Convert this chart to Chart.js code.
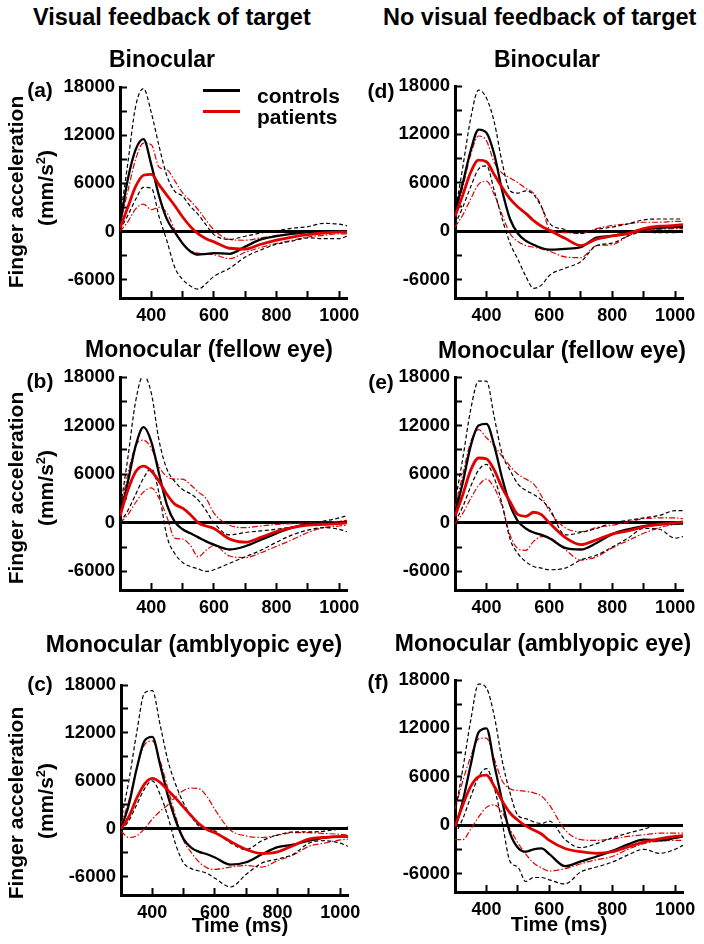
<!DOCTYPE html>
<html>
<head>
<meta charset="utf-8">
<script src="https://cdn.jsdelivr.net/npm/chart.js@4.4.0/dist/chart.umd.min.js"></script>
<style>
  body { margin: 0; background: #fff; }
  #fig { position: relative; width: 704px; height: 944px; overflow: hidden;
         font-family: 'Liberation Sans', Arial, sans-serif; font-weight: bold; color: #000; }
  canvas { position: absolute; }
  .t { position: absolute; white-space: nowrap; line-height: 1; transform: translate(-50%, -50%); }
  .h { position: absolute; white-space: nowrap; line-height: 1; font-size: 23.5px; transform: translate(0, -50%); }
  .yl { position: absolute; white-space: nowrap; line-height: 1; font-size: 21px;
        transform: translate(-50%, -50%) rotate(-90deg); }
  .yl sup { font-size: 13px; }
  .leg { position: absolute; height: 3px; width: 37px; }
  .legt { position: absolute; white-space: nowrap; line-height: 1; font-size: 21px; transform: translate(0, -50%); }
</style>
</head>
<body>
<div id="fig">
  <canvas id="pa"></canvas><canvas id="pb"></canvas><canvas id="pc"></canvas>
  <canvas id="pd"></canvas><canvas id="pe"></canvas><canvas id="pf"></canvas>

  <div class="h" style="left:33px;top:18px">Visual feedback of target</div>
  <div class="h" style="left:383px;top:18px">No visual feedback of target</div>

  <div class="t" style="left:162px;top:59px;font-size:23px">Binocular</div>
  <div class="t" style="left:547px;top:59px;font-size:23px">Binocular</div>
  <div class="t" style="left:209px;top:349px;font-size:23px">Monocular (fellow eye)</div>
  <div class="t" style="left:562px;top:350px;font-size:23px">Monocular (fellow eye)</div>
  <div class="t" style="left:194px;top:644px;font-size:23px">Monocular (amblyopic eye)</div>
  <div class="t" style="left:543px;top:643px;font-size:23px">Monocular (amblyopic eye)</div>

  <div class="t" style="left:40px;top:89px;font-size:21px">(a)</div>
  <div class="t" style="left:40px;top:380px;font-size:21px">(b)</div>
  <div class="t" style="left:40px;top:683px;font-size:21px">(c)</div>
  <div class="t" style="left:381px;top:90px;font-size:21px">(d)</div>
  <div class="t" style="left:381px;top:381px;font-size:21px">(e)</div>
  <div class="t" style="left:378px;top:681px;font-size:21px">(f)</div>

  <div class="yl" style="left:15px;top:192px">Finger acceleration</div>
  <div class="yl" style="left:45px;top:188px">(mm/s<sup>2</sup>)</div>
  <div class="yl" style="left:15px;top:488px">Finger acceleration</div>
  <div class="yl" style="left:45px;top:488px">(mm/s<sup>2</sup>)</div>
  <div class="yl" style="left:15px;top:803px">Finger acceleration</div>
  <div class="yl" style="left:45px;top:801px">(mm/s<sup>2</sup>)</div>

  <div class="t" style="left:240px;top:925px;font-size:20.5px">Time (ms)</div>
  <div class="t" style="left:559px;top:924px;font-size:20.5px">Time (ms)</div>

  <div class="leg" style="left:203px;top:89px;background:#000"></div>
  <div class="leg" style="left:203px;top:110px;background:#e00000"></div>
  <div class="legt" style="left:257px;top:95px">controls</div>
  <div class="legt" style="left:257px;top:116px">patients</div>
</div>

<script>
// sample times (ms)
const timeMs = [300, 325, 350, 375, 400, 425, 450, 475, 500, 525, 550, 575, 600, 650, 700, 750, 800, 850, 900, 950, 1000, 1025];
const xTicks = [400, 500, 600, 700, 800, 900, 1000];
const yTicks = [-6000, -3000, 0, 3000, 6000, 9000, 12000, 15000, 18000];

// (a) binocular, visual feedback
const aCtrlMean = [800, 6500, 10200, 11500, 8300, 4400, 1500, -100, -1500, -2500, -2900, -2800, -2700, -2800, -1900, -1000, -600, -300, -100, 0, 0, 0];
const aCtrlHi = [1500, 8500, 15600, 17800, 14800, 10600, 6900, 5000, 4400, 3100, 2100, 800, -400, -1000, -600, -200, 100, 400, 600, 1000, 900, 700];
const aCtrlLo = [200, 2000, 4000, 5500, 5400, 1800, -1200, -4500, -6000, -6800, -7200, -6500, -5600, -4600, -3200, -2300, -1600, -1200, -800, -900, -900, -600];
const aPatMean = [400, 3000, 5600, 7000, 7100, 5800, 4500, 3200, 1800, 600, -300, -900, -1300, -2100, -2200, -1600, -1100, -700, -400, -200, -100, -100];
const aPatHi = [800, 5000, 9000, 11000, 10800, 8000, 7700, 6300, 4800, 3800, 2700, 1400, 200, -1000, -1100, -800, -500, -300, -200, -100, 0, 0];
const aPatLo = [0, 1200, 2800, 3400, 2700, 3000, 2300, 200, -1500, -2400, -2700, -2800, -2900, -3400, -2600, -2000, -1500, -1100, -700, -500, -300, -300];

// (b) fellow eye, visual feedback
const bCtrlMean = [800, 5000, 9500, 11800, 10000, 6000, 2200, 100, -800, -1300, -1800, -2300, -2700, -3300, -2900, -2100, -1300, -600, -200, -100, 0, 0];
const bCtrlHi = [1500, 8000, 15000, 18200, 16000, 10100, 6600, 5100, 4100, 3600, 2800, 1500, 0, -1500, -1200, -1000, -800, -500, -100, 200, 600, 900];
const bCtrlLo = [0, 1500, 3500, 5500, 6700, 3600, -1700, -3800, -4900, -5400, -5700, -6000, -5800, -5000, -4200, -3400, -2400, -1500, -900, -600, -800, -1100];
const bPatMean = [800, 4000, 6300, 7000, 6400, 5100, 3500, 2300, 1800, 1000, 0, -400, -700, -2000, -2400, -1800, -1100, -600, -300, -200, -100, 0];
const bPatHi = [1200, 6000, 9500, 10200, 9200, 6900, 5700, 5400, 5400, 4700, 3800, 3000, 1200, -300, -600, -400, -200, -100, 0, 100, 200, 300];
const bPatLo = [0, 1000, 2500, 3800, 4300, 3000, 700, -1900, -2000, -2800, -4200, -3400, -2800, -4100, -4300, -3700, -2900, -2100, -1200, -600, -400, -300];

// (c) amblyopic eye, visual feedback
const cCtrlMean = [0, 3000, 7500, 11000, 11500, 8000, 4100, 1000, -1300, -2400, -2900, -3200, -3600, -4500, -4200, -3200, -2300, -2000, -1500, -1100, -1000, -1000];
const cCtrlHi = [1000, 6000, 12000, 17000, 17300, 13000, 8500, 5500, 3200, 1500, 300, -100, -300, -1800, -2600, -1500, -800, -400, -400, -300, 0, 200];
const cCtrlLo = [-200, 1000, 3000, 5000, 6000, 4300, 1500, -2000, -4300, -5000, -5300, -5600, -6200, -7300, -5700, -4300, -3800, -3200, -1800, -1500, -1800, -2200];
const cPatMean = [0, 1500, 3800, 5600, 6300, 5800, 4800, 3800, 2700, 1600, 600, -100, -500, -1600, -2600, -3100, -2900, -2100, -1300, -1100, -1000, -1000];
const cPatHi = [500, 3500, 7500, 10500, 11000, 8500, 5000, 1500, -1500, -3000, -4200, -4900, -5100, -4800, -4600, -4800, -4000, -3300, -2200, -1800, -1400, -1300];
const cPatLo = [-300, -1100, -900, 0, 1200, 2200, 3000, 4000, 4800, 5100, 5000, 4000, 2400, -200, -900, -1100, -800, -500, -500, -600, -700, -800];

// (d) binocular, no visual feedback
const dCtrlMean = [2500, 6000, 10000, 12600, 12200, 9500, 5000, 1500, -300, -1200, -1700, -2100, -2300, -2200, -2000, -800, -600, -200, 200, 400, 500, 500];
const dCtrlHi = [2200, 8000, 14000, 17500, 16500, 13500, 8500, 5000, 4700, 5000, 4500, 3000, 1000, 200, -300, 200, 500, 900, 1400, 1500, 1500, 1500];
const dCtrlLo = [800, 3000, 5500, 7700, 8100, 5000, 1500, -1500, -3500, -5600, -7100, -6700, -5500, -4600, -3800, -1800, -1500, -600, -100, -200, -200, -100];
const dPatMean = [1800, 4500, 7300, 8800, 8600, 7000, 5400, 4000, 3000, 2200, 1300, 600, 100, -900, -1800, -1000, -600, -300, 300, 600, 700, 800];
const dPatHi = [2000, 5500, 9500, 11800, 11200, 8500, 7200, 6600, 6000, 5300, 4700, 3100, 300, -200, -300, 300, 700, 900, 1100, 1100, 1200, 1200];
const dPatLo = [500, 2000, 4000, 5800, 6200, 4500, 2000, -300, -1300, -1800, -2000, -2200, -2500, -3200, -3300, -1800, -1700, -600, 0, 200, 300, 300];

// (e) fellow eye, no visual feedback
const eCtrlMean = [1200, 5000, 9500, 12000, 12200, 9500, 5500, 2200, 200, -700, -1200, -1500, -1900, -3100, -3300, -2500, -1400, -800, -400, -200, -100, -100];
const eCtrlHi = [2500, 8000, 14000, 17500, 17500, 13000, 8500, 6500, 4800, 4000, 3500, 2800, 1800, -1500, -1200, -700, 0, 300, 600, 900, 1500, 1500];
const eCtrlLo = [100, 2000, 4500, 6500, 7200, 5500, 2300, -2000, -3800, -4800, -5400, -5600, -5800, -5600, -4600, -4000, -3000, -1900, -700, -800, -1900, -1700];
const ePatMean = [800, 3500, 6500, 8000, 7900, 6500, 4300, 2600, 1000, 800, 1300, 1000, 0, -1800, -2700, -2100, -1400, -1000, -500, -200, 0, 100];
const ePatHi = [1800, 6000, 10000, 11500, 10500, 9500, 8200, 7000, 6000, 5400, 4800, 3300, 1500, -600, -1100, -600, -300, 100, 500, 600, 600, 500];
const ePatLo = [-100, 1200, 3000, 4600, 5400, 4300, 2000, -1500, -3200, -3400, -2300, -1700, -1800, -3300, -4600, -4200, -3100, -2200, -1300, -600, -200, -100];

// (f) amblyopic eye, no visual feedback
const fCtrlMean = [-400, 3000, 7500, 11500, 12000, 7500, 3000, -1000, -2800, -3300, -3000, -2900, -3600, -5100, -4500, -3900, -3200, -2400, -1800, -1900, -1600, -1400];
const fCtrlHi = [1500, 7000, 13000, 17500, 17000, 13500, 8000, 4000, 1200, 800, 400, 200, 500, -1800, -2800, -2300, -1600, -1000, -500, 0, 0, -200];
const fCtrlLo = [-1200, 800, 3500, 6000, 7000, 4600, 300, -4500, -5200, -7000, -6500, -6500, -6800, -7300, -5800, -5200, -4600, -3700, -3000, -3500, -3000, -2500];
const fPatMean = [-200, 2500, 4800, 6000, 6200, 4800, 3000, 1500, 600, -100, -600, -1100, -1900, -2900, -3300, -3500, -3300, -2700, -2100, -1700, -1400, -1300];
const fPatHi = [2000, 5500, 8500, 10700, 10800, 8200, 5500, 4500, 4300, 4200, 4000, 3600, 2500, -600, -1800, -1900, -1700, -1400, -1200, -1000, -1000, -1000];
const fPatLo = [-1800, -1800, -500, 1000, 2200, 2500, 1600, -500, -2200, -3600, -4700, -5300, -5700, -5400, -4800, -4300, -3900, -3000, -2300, -2000, -1900, -1900];

const RED = '#e00000';

function series(vals, color, width, dash) {
    return {
        data: timeMs.map((t, i) => ({x: t, y: vals[i]})),
        borderColor: color,
        borderWidth: width,
        borderDash: dash,
        pointRadius: 0,
        fill: false,
        cubicInterpolationMode: 'monotone'
    };
}

// plot = [left, top, right, bottom] of the plot area on the page
function createPanel(id, plot, ctrl, pat) {
    const yW = 70, xH = 30, padTop = 30, padRight = 30;
    const cv = document.getElementById(id);
    const w = yW + (plot[2] - plot[0]) + padRight;
    const h = padTop + (plot[3] - plot[1]) + xH;
    cv.width = w; cv.height = h;
    cv.style.left = (plot[0] - yW) + 'px';
    cv.style.top = (plot[1] - padTop) + 'px';

    new Chart(cv, {
        type: 'line',
        data: {
            datasets: [
                series(pat[0], RED, 2.8, []),
                series(ctrl[0], '#000', 2.3, []),
                series(ctrl[1], '#000', 1.2, [4, 2.5]),
                series(ctrl[2], '#000', 1.2, [4, 2.5]),
                series(pat[1], RED, 1.2, [6, 2, 1.5, 2]),
                series(pat[2], RED, 1.2, [6, 2, 1.5, 2])
            ]
        },
        options: {
            responsive: false,
            animation: false,
            events: [],
            layout: {padding: {top: padTop, right: padRight, left: 0, bottom: 0}},
            plugins: {legend: {display: false}, tooltip: {enabled: false}},
            scales: {
                x: {
                    type: 'linear', min: 300, max: 1025,
                    afterBuildTicks: s => { s.ticks = xTicks.map(v => ({value: v})); },
                    afterFit: s => { s.height = xH; },
                    ticks: {
                        autoSkip: false, maxRotation: 0, padding: 14, color: '#000',
                        font: {size: 18, weight: 'bold', family: 'Liberation Sans'},
                        callback: v => (v % 200 === 0 ? String(v) : '')
                    },
                    grid: {drawOnChartArea: false, tickLength: -7, tickColor: '#000', tickWidth: 2},
                    border: {color: '#000', width: 3}
                },
                y: {
                    min: -8300, max: 18000,
                    afterBuildTicks: s => { s.ticks = yTicks.map(v => ({value: v})); },
                    afterFit: s => { s.width = yW; },
                    ticks: {
                        padding: 12, color: '#000',
                        font: {size: 18.5, weight: 'bold', family: 'Liberation Sans'},
                        callback: v => (v % 6000 === 0 ? String(v) : '')
                    },
                    grid: {
                        color: c => (c.tick && c.tick.value === 0 ? '#000' : 'rgba(0,0,0,0)'),
                        lineWidth: c => (c.tick && c.tick.value === 0 ? 3 : 1),
                        tickLength: -7, tickColor: '#000', tickWidth: 2
                    },
                    border: {color: '#000', width: 3}
                }
            }
        }
    });
}

createPanel('pa', [120, 87, 347, 298], [aCtrlMean, aCtrlHi, aCtrlLo], [aPatMean, aPatHi, aPatLo]);
createPanel('pb', [120, 377, 347, 590], [bCtrlMean, bCtrlHi, bCtrlLo], [bPatMean, bPatHi, bPatLo]);
createPanel('pc', [121, 685, 348, 895], [cCtrlMean, cCtrlHi, cCtrlLo], [cPatMean, cPatHi, cPatLo]);
createPanel('pd', [455, 86, 683, 298], [dCtrlMean, dCtrlHi, dCtrlLo], [dPatMean, dPatHi, dPatLo]);
createPanel('pe', [455, 377, 683, 590], [eCtrlMean, eCtrlHi, eCtrlLo], [ePatMean, ePatHi, ePatLo]);
createPanel('pf', [455, 680, 683, 892], [fCtrlMean, fCtrlHi, fCtrlLo], [fPatMean, fPatHi, fPatLo]);
</script>
</body>
</html>
